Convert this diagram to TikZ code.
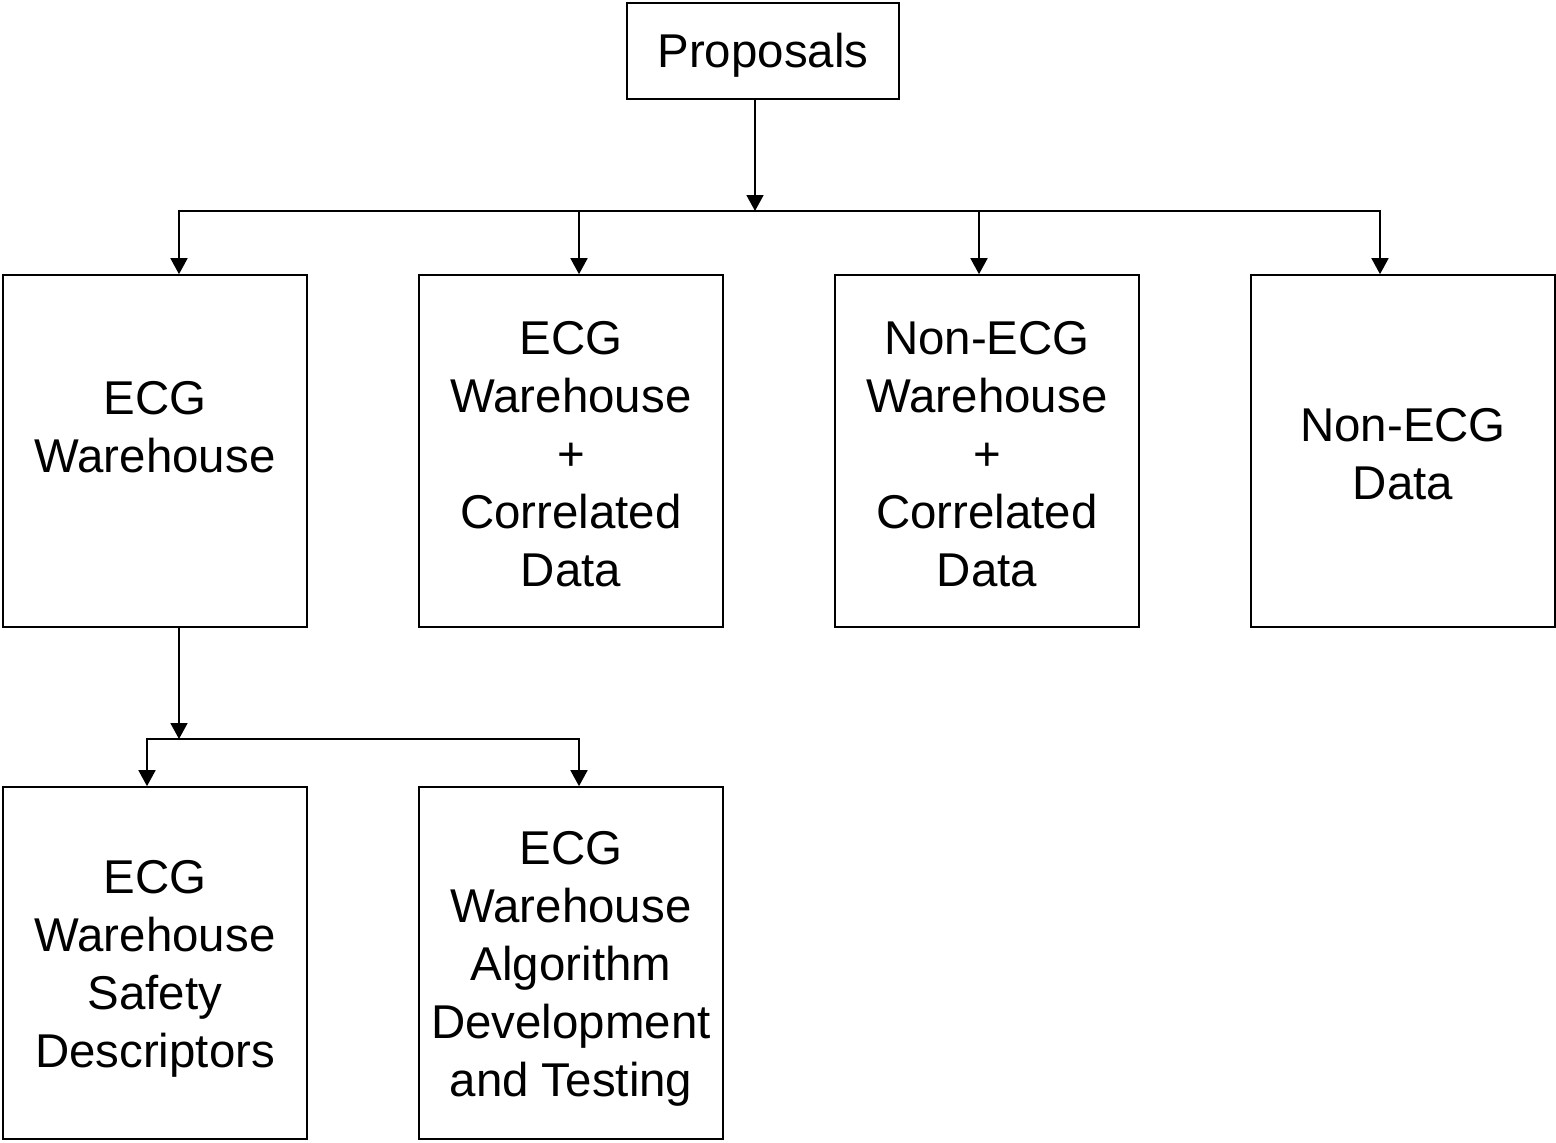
\documentclass[tikz,border=0pt]{standalone}
\usepackage{fontspec}
\setmainfont{Liberation Sans}
\usepackage{tikz}
\usetikzlibrary{arrows.meta}

\begin{document}
\begin{tikzpicture}[x=0.02cm,y=-0.02cm,
      -{Triangle[length=0.32cm,width=0.34cm]},line width=1pt,
      every node/.append style={font=\fontsize{27}{33}\selectfont,align=center},
      topbox/.style={draw=black,line width=1pt,minimum width=5.44cm,minimum height=1.92cm},
      bigbox/.style={draw=black,line width=1pt,minimum width=6.08cm,minimum height=7.04cm}]
    \useasboundingbox (0,0) rectangle (1556,1143);
    \node (Proposals) [topbox] at (763,51) {};
    \node (ProposalsText) at (763,55) {Proposals};
    \node (ECGW) [bigbox] at (155,451) {};
    \node (ECGWText) at (155,427) {ECG\\Warehouse};
    \node (ECGWCorr) [bigbox] at (571,451) {};
    \node (ECGWCorrText) at (571,454) {ECG\\Warehouse\\+\\Correlated\\Data};
    \node (NonECGWCorr) [bigbox] at (987,451) {};
    \node (NonECGWCorrText) at (987,454) {Non-ECG\\Warehouse\\+\\Correlated\\Data};
    \node (NonECG) [bigbox] at (1403,451) {};
    \node (NonECGText) at (1403,454) {Non-ECG\\Data};
    \node (Safety) [bigbox] at (155,963) {};
    \node (SafetyText) at (155,969) {ECG\\Warehouse\\Safety\\Descriptors};
    \node (Algo) [bigbox] at (571,963) {};
    \node (AlgoText) at (571,969) {ECG\\Warehouse\\Algorithm\\Development\\and Testing};
    % bus junctions
    \coordinate (bus1) at (755,211);
    \coordinate (bus2) at (179,739);
    \draw ([xshift=-0.16cm]Proposals.south) -- (bus1);
    \draw (bus1) -| ([xshift=0.48cm]ECGW.north);
    \draw (bus1) -| ([xshift=0.16cm]ECGWCorr.north);
    \draw (bus1) -| ([xshift=-0.16cm]NonECGWCorr.north);
    \draw (bus1) -| ([xshift=-0.46cm]NonECG.north);
    \draw ([xshift=0.48cm]ECGW.south) -- (bus2);
    \draw (bus2) -| ([xshift=-0.16cm]Safety.north);
    \draw (bus2) -| ([xshift=0.16cm]Algo.north);
  \end{tikzpicture}
\end{document}
